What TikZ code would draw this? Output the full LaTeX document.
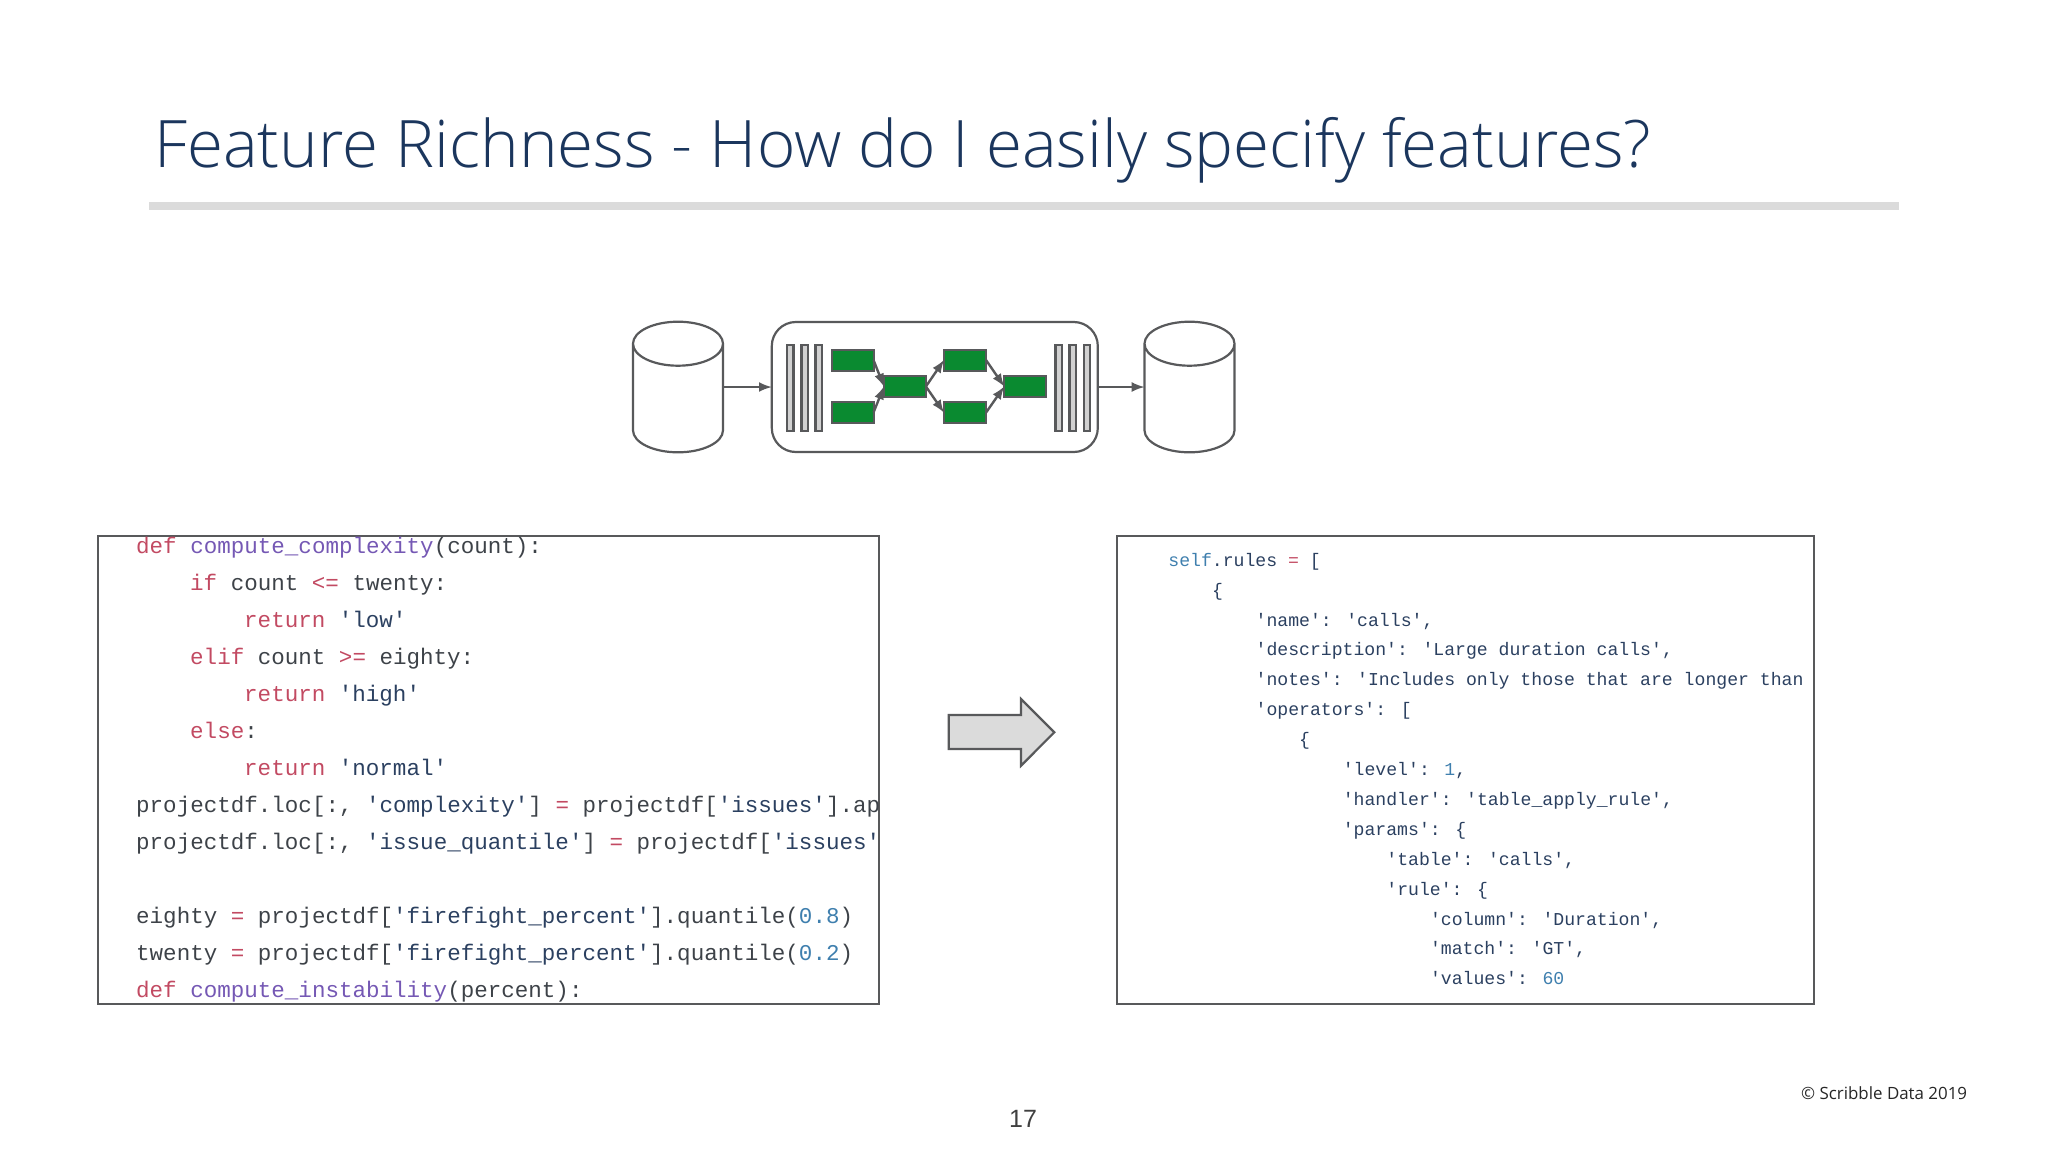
\documentclass[tikz,border=0pt]{standalone}
\usepackage{fontspec}
\setmainfont{Open Sans}
\newfontfamily\lightfont{Open Sans Light}
\newfontfamily\codefont{Liberation Mono}
\newfontfamily\pagefont{Liberation Sans}
\usepackage{tikz}
\usetikzlibrary{arrows}

\definecolor{linegrey}{HTML}{58595B}
\definecolor{titleblue}{HTML}{1B365D}
\definecolor{stepgreen}{HTML}{0A8A30}
\definecolor{kwred}{HTML}{C24A62}
\definecolor{fnpurple}{HTML}{7558B4}
\definecolor{numblue}{HTML}{3F7FAE}
\definecolor{strnavy}{HTML}{2B4060}
\definecolor{plaingrey}{HTML}{3D4248}
\newcommand{\kw}[1]{\textcolor{kwred}{#1}}
\newcommand{\fn}[1]{\textcolor{fnpurple}{#1}}
\newcommand{\nm}[1]{\textcolor{numblue}{#1}}
\newcommand{\st}[1]{\textcolor{strnavy}{#1}}

\begin{document}
\begin{tikzpicture}[x=.5pt,y=-.5pt,
    store/.style={minimum width=45pt, minimum height=65.3pt, inner sep=0pt, outer sep=0pt},
    stepbox/.style={draw=linegrey, line width=1pt, fill=stepgreen, minimum width=21pt, minimum height=10.5pt,
      inner sep=0pt, outer sep=0pt},
    barbox/.style={draw=linegrey, line width=1.2pt, fill=black!18, minimum width=3.2pt, minimum height=43pt,
      inner sep=0pt, outer sep=0pt},
    codebox/.style={draw=linegrey, line width=1pt, minimum height=234pt, inner sep=0pt, outer sep=0pt},
    flow/.style={draw=linegrey, line width=1.2pt, ->, >=latex}]
  \useasboundingbox (0,0) rectangle (2048,1152);

  % heading
  \node[anchor=base west, inner sep=0pt, text=titleblue, font=\lightfont\fontsize{32.75}{40}\selectfont] (heading) at (154,167)
    {Feature Richness - How do I easily specify features?};
  \fill[black!14] (149,202) rectangle (1899,210);

  % pipeline
  \node[store] (src) at (678,387) {};
  \node[store] (dst) at (1189.5,387) {};
  \foreach \name in {src,dst}
  {
    \draw[linegrey, line width=1.1pt] ([yshift=-11pt]\name.north west)
      arc[start angle=180, end angle=540, x radius=22.5pt, y radius=11pt]
      -- ([yshift=11pt]\name.south west)
      arc[start angle=180, end angle=360, x radius=22.5pt, y radius=11pt]
      -- ([yshift=-11pt]\name.north east);
  }
  \node[draw=linegrey, line width=1.1pt, rounded corners=12pt, minimum width=163pt, minimum height=65pt,
    inner sep=0pt, outer sep=0pt] (engine) at (934.8,387) {};
  \foreach \name/\x in {ba/790.2, bb/804.5, bc/818.8, bd/1058.5, be/1072.6, bf/1087}
  {
    \node[barbox] (\name) at (\x,388) {};
  }
  \foreach \name/\x/\y in {sa/852.5/360, sb/852.5/412.6, sc/904.9/386.5, sd/965/360, se/965/412.6, sf/1025.2/386.5}
  {
    \node[stepbox] (\name) at (\x,\y) {};
  }
  \foreach \from/\to in {sa/sc, sb/sc, sc/sd, sc/se, sd/sf, se/sf}
  {
    \draw[flow] (\from.east) -- (\to.west);
  }
  \draw[flow] (src.east) -- (engine.west);
  \draw[flow] (engine.east) -- (dst.west);

  % left code
  \node[codebox, minimum width=390.5pt] (codeleft) at (488.5,770) {};
  \def \cw {13.5}
  \foreach \l/\ind/\txt in {
    0/0/{\kw{def} \fn{compute\_complexity}(count):},
    1/4/{\kw{if} count \kw{<=} twenty:},
    2/8/{\kw{return} \st{'low'}},
    3/4/{\kw{elif} count \kw{>=} eighty:},
    4/8/{\kw{return} \st{'high'}},
    5/4/{\kw{else}:},
    6/8/{\kw{return} \st{'normal'}},
    7/0/{projectdf.loc[:, \st{'complexity'}] \kw{=} projectdf[\st{'issues'}].ap},
    8/0/{projectdf.loc[:, \st{'issue\_quantile'}] \kw{=} projectdf[\st{'issues'}},
    10/0/{eighty \kw{=} projectdf[\st{'firefight\_percent'}].quantile(\nm{0.8})},
    11/0/{twenty \kw{=} projectdf[\st{'firefight\_percent'}].quantile(\nm{0.2})},
    12/0/{\kw{def} \fn{compute\_instability}(percent):}}
  {
    \node[anchor=base west, inner sep=0pt, text=plaingrey, font=\codefont\fontsize{11.27}{13}\selectfont]
      (left\l) at ({135.8+\cw*\ind},{553.8+36.95*\l}) {\txt};
  }

  % block arrow
  \draw[draw=linegrey, line width=1.1pt, fill=black!14] (948.7,715) -- (1021,715) -- (1021,699) -- (1054.3,732.3)
    -- (1021,765.7) -- (1021,749) -- (948.7,749) -- cycle;

  % right code
  \node[codebox, minimum width=348.4pt] (coderight) at (1465.6,770) {};
  \def \cwr {10.9}
  \foreach \l/\ind/\txt in {
    0/0/{\nm{self}.rules \kw{=} [},
    1/4/{\{},
    2/8/{\st{'name'}: \st{'calls'},},
    3/8/{\st{'description'}: \st{'Large duration calls'},},
    4/8/{\st{'notes'}: \st{'Includes only those that are longer than}},
    5/8/{\st{'operators'}: [},
    6/12/{\{},
    7/16/{\st{'level'}: \nm{1},},
    8/16/{\st{'handler'}: \st{'table\_apply\_rule'},},
    9/16/{\st{'params'}: \{},
    10/20/{\st{'table'}: \st{'calls'},},
    11/20/{\st{'rule'}: \{},
    12/24/{\st{'column'}: \st{'Duration'},},
    13/24/{\st{'match'}: \st{'GT'},},
    14/24/{\st{'values'}: \nm{60}}}
  {
    \node[anchor=base west, inner sep=0pt, text=strnavy, font=\codefont\fontsize{9.07}{11}\selectfont]
      (right\l) at ({1168+\cwr*\ind},{566.2+29.9*\l}) {\txt};
  }

  % footer
  \node[anchor=base east, inner sep=0pt, text=black!85, font=\fontsize{8.45}{11}\selectfont] (copy) at (1967.5,1099.5)
    {© Scribble Data 2019};
  \node[anchor=base, inner sep=0pt, text=black!75, font=\pagefont\fontsize{12.5}{15}\selectfont] (pageno) at (1023,1127) {17};
\end{tikzpicture}
\end{document}
